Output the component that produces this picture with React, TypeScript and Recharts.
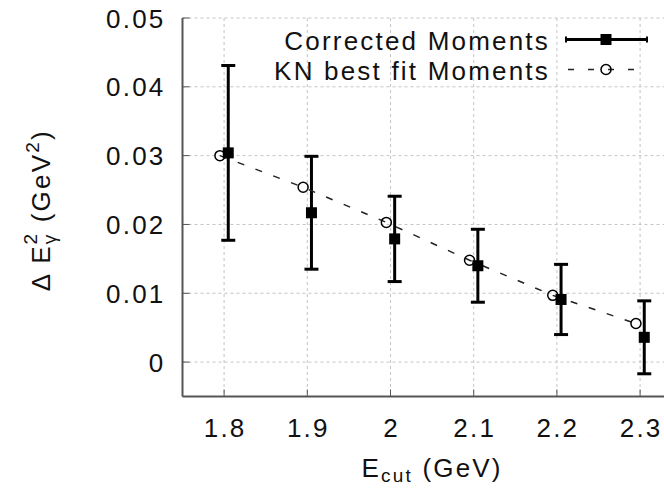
import React from 'react';
import { ComposedChart, Scatter, XAxis, YAxis, CartesianGrid, ErrorBar, Legend } from 'recharts';

// ---- data ----
const xTickValues = [1.8, 1.9, 2.0, 2.1, 2.2, 2.3];
const yTickValues = [0, 0.01, 0.02, 0.03, 0.04, 0.05];
const seriesNames = ['Corrected Moments', 'KN best fit Moments'];

const correctedEcut = [1.805, 1.905, 2.005, 2.105, 2.205, 2.305];
const correctedMoment = [0.0304, 0.0217, 0.0179, 0.014, 0.0091, 0.0036];
const correctedError = [0.0127, 0.0082, 0.0062, 0.0053, 0.0051, 0.0053];

const fitEcut = [1.795, 1.895, 1.995, 2.095, 2.195, 2.295];
const fitMoment = [0.03, 0.0254, 0.0203, 0.0148, 0.0097, 0.0056];

const correctedData = correctedEcut.map((x, i) => ({ x, y: correctedMoment[i], err: correctedError[i] }));
const fitData = fitEcut.map((x, i) => ({ x, y: fitMoment[i] }));

// ---- style ----
const FONT = '"Liberation Sans", Arial, Helvetica, sans-serif';
const FS = 26;
const LS = 2.2;
const AXIS = '#555';
const TEXT = '#111';

const XTick = (props: any) => {
  const { x, y, payload } = props;
  return (
    <g>
      <line x1={x} x2={x} y1={y} y2={y - 7} stroke={AXIS} strokeWidth={1} />
      <text x={x + 1} y={y + 40.5} textAnchor="middle" fontFamily={FONT} fontSize={FS} letterSpacing={LS} fill={TEXT}>
        {String(payload.value)}
      </text>
    </g>
  );
};

const TopTick = (props: any) => {
  const { x, y } = props;
  return <line x1={x} x2={x} y1={y} y2={y + 7} stroke={AXIS} strokeWidth={1} />;
};

const YTick = (props: any) => {
  const { x, y, payload } = props;
  return (
    <g>
      <line x1={x} x2={x + 7} y1={y} y2={y} stroke={AXIS} strokeWidth={1} />
      <text x={x - 17} y={y + 9.5} textAnchor="end" fontFamily={FONT} fontSize={FS} letterSpacing={LS} fill={TEXT}>
        {String(payload.value)}
      </text>
    </g>
  );
};

const YLabel = (props: any) => {
  const { x, y, height } = props.viewBox;
  const cx = x + 50;
  const cy = y + height / 2 + 3;
  return (
    <text
      x={cx}
      y={cy}
      transform={`rotate(-90 ${cx} ${cy})`}
      textAnchor="middle"
      fontFamily={FONT}
      fontSize={FS}
      letterSpacing={LS}
      fill={TEXT}
      style={{ whiteSpace: 'pre' }}
    >
      <tspan>Δ E</tspan>
      <tspan fontSize={19} dy={6}>γ</tspan>
      <tspan fontSize={19} dx={-12} dy={-19}>2</tspan>
      <tspan dy={13}> (GeV</tspan>
      <tspan fontSize={19} dy={-11}>2</tspan>
      <tspan dy={11}>)</tspan>
    </text>
  );
};

const XLabel = (props: any) => {
  const { x, y, width } = props.viewBox;
  const cx = x + width / 2;
  const cy = y + 80.5;
  return (
    <text x={cx} y={cy} textAnchor="middle" fontFamily={FONT} fontSize={FS} letterSpacing={LS} fill={TEXT} style={{ whiteSpace: 'pre' }}>
      <tspan>E</tspan>
      <tspan fontSize={19} dy={5}>cut</tspan>
      <tspan dy={-5}> (GeV)</tspan>
    </text>
  );
};

const SquareShape = (props: any) => {
  const { cx, cy } = props;
  return <rect x={cx - 5.5} y={cy - 5.5} width={11} height={11} fill="#000" />;
};

const CircleShape = (props: any) => {
  const { cx, cy } = props;
  return <circle cx={cx} cy={cy} r={5} fill="none" stroke="#000" strokeWidth={1.5} />;
};

const LegendContent = () => (
  <svg width={700} height={100} style={{ display: 'block' }}>
    <text x={550} y={50} textAnchor="end" fontFamily={FONT} fontSize={FS} letterSpacing={LS} fill={TEXT}>
      {seriesNames[0]}
    </text>
    <line x1={566} x2={647} y1={39.5} y2={39.5} stroke="#000" strokeWidth={3} />
    <line x1={566} x2={566} y1={36.5} y2={42.5} stroke="#000" strokeWidth={2} />
    <line x1={647} x2={647} y1={36.5} y2={42.5} stroke="#000" strokeWidth={2} />
    <rect x={600.5} y={34} width={11} height={11} fill="#000" />
    <text x={550} y={80} textAnchor="end" fontFamily={FONT} fontSize={FS} letterSpacing={LS} fill={TEXT}>
      {seriesNames[1]}
    </text>
    <line x1={568} x2={640} y1={69.5} y2={69.5} stroke="#222" strokeWidth={1.5} strokeDasharray="6 14" />
    <circle cx={606} cy={69.5} r={5} fill="none" stroke="#000" strokeWidth={1.5} />
  </svg>
);

export default function App() {
  return (
    <div style={{ position: 'absolute', left: 0, top: 0, width: 664, height: 488, overflow: 'hidden', background: '#fff' }}>
      <ComposedChart width={700} height={488} margin={{ top: 18, right: 18.3, bottom: 31.5, left: 0 }}>
        <CartesianGrid stroke="#c4c4c4" strokeDasharray="3 3" strokeWidth={1} />
        <XAxis
          type="number"
          dataKey="x"
          domain={[1.75, 2.35]}
          ticks={xTickValues}
          interval={0}
          height={60}
          tickSize={0}
          tickMargin={0}
          tick={(p: any) => <XTick {...p} />}
          axisLine={{ stroke: AXIS, strokeWidth: 2 }}
          tickLine={false}
          allowDataOverflow
          label={{ content: (p: any) => <XLabel {...p} /> }}
        />
        <XAxis
          xAxisId="top"
          orientation="top"
          type="number"
          dataKey="x"
          domain={[1.75, 2.35]}
          ticks={xTickValues}
          interval={0}
          height={0}
          tickSize={0}
          tickMargin={0}
          tick={(p: any) => <TopTick {...p} />}
          axisLine={{ stroke: AXIS, strokeWidth: 2 }}
          tickLine={false}
          allowDataOverflow
        />
        <YAxis
          type="number"
          dataKey="y"
          domain={[-0.005, 0.05]}
          ticks={yTickValues}
          interval={0}
          width={182.5}
          tickSize={0}
          tickMargin={0}
          tick={(p: any) => <YTick {...p} />}
          axisLine={{ stroke: AXIS, strokeWidth: 2 }}
          tickLine={false}
          allowDataOverflow
          label={{ content: (p: any) => <YLabel {...p} /> }}
        />
        <Legend
          layout="horizontal"
          verticalAlign="middle"
          align="center"
          wrapperStyle={{ left: 0, top: 0, width: 700, height: 100 }}
          content={() => <LegendContent />}
        />
        <Scatter
          name={seriesNames[1]}
          data={fitData}
          line={{ stroke: '#222', strokeWidth: 1.5, strokeDasharray: '7 12' }}
          lineJointType="linear"
          shape={(p: any) => <CircleShape {...p} />}
          isAnimationActive={false}
        />
        <Scatter
          name={seriesNames[0]}
          data={correctedData}
          shape={(p: any) => <SquareShape {...p} />}
          isAnimationActive={false}
        >
          <ErrorBar dataKey="err" direction="y" width={7} strokeWidth={3} stroke="#000" />
        </Scatter>
      </ComposedChart>
    </div>
  );
}
